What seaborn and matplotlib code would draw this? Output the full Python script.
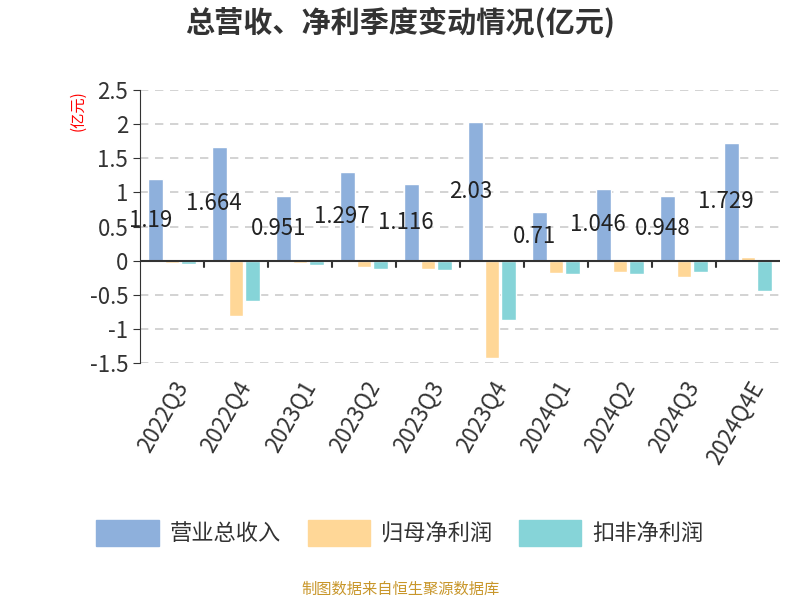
import matplotlib
matplotlib.use("Agg")
import matplotlib.pyplot as plt
import seaborn as sns
import pandas as pd
import numpy as np

sns.set_style("white")
plt.rcParams['font.family'] = ['Noto Sans CJK SC', 'DejaVu Sans']

quarters = ["2022Q3","2022Q4","2023Q1","2023Q2","2023Q3","2023Q4","2024Q1","2024Q2","2024Q3","2024Q4E"]
revenue = [1.19,1.664,0.951,1.297,1.116,2.03,0.71,1.046,0.948,1.729]
parent = [-0.04,-0.81,-0.03,-0.09,-0.12,-1.42,-0.18,-0.17,-0.24,0.06]
deduct = [-0.05,-0.59,-0.07,-0.12,-0.14,-0.87,-0.20,-0.20,-0.17,-0.44]
series = ["营业总收入","归母净利润","扣非净利润"]
colors = ["#8eb0dc","#ffd797","#86d4d8"]

df = pd.DataFrame({"q": quarters*3,
                   "v": revenue+parent+deduct,
                   "s": [series[0]]*10+[series[1]]*10+[series[2]]*10})

fig = plt.figure(figsize=(8,6), dpi=100)
ax = fig.add_axes([0.175, 0.395, 0.80, 0.455])
sns.barplot(data=df, x="q", y="v", hue="s", palette=colors, ax=ax, width=0.78,
            gap=0.12, saturation=1, legend=False)
ax.set_ylim(-1.5, 2.5)
ax.set_yticks(np.arange(-1.5, 2.51, 0.5))
ax.set_yticklabels(["-1.5","-1","-0.5","0","0.5","1","1.5","2","2.5"], fontsize=16, color="#333")
ax.yaxis.grid(True, linestyle=(0,(5,4)), color="#cccccc", lw=1.2)
ax.set_axisbelow(True)
for s in ["top","right","bottom"]:
    ax.spines[s].set_visible(False)
ax.spines["left"].set_color("#333")
ax.axhline(0, color="#333", lw=1.5)
ax.set_xlim(-0.5, 9.5)
ax.set_xticks(range(10))
ax.set_xticklabels(quarters, rotation=60, ha="right", rotation_mode="anchor", fontsize=16, color="#333")
ax.tick_params(axis="x", length=0, pad=10)
ax.tick_params(axis="y", length=5, color="#333", left=True)
for xb in np.arange(0.5, 9.5, 1):
    ax.plot([xb, xb], [0, -0.09], color="#333", lw=1.5, clip_on=False)
ax.set_xlabel(""); ax.set_ylabel("")
bars = ax.containers[0]
for b, v in zip(bars, revenue):
    ax.text(b.get_x()+b.get_width()/2 - 0.08, v/2, f"{v:g}", ha="center", va="center", fontsize=16, color="#222")
fig.text(0.097, 0.815, "(亿元)", rotation=90, color="red", fontsize=11, ha="center", va="center")
fig.text(0.5, 0.962, "总营收、净利季度变动情况(亿元)", ha="center", va="center", fontsize=21, fontweight="bold", color="#333")
from matplotlib.patches import FancyBboxPatch
handles = [FancyBboxPatch((0,0),1,1, boxstyle="round,pad=0.1", color=c) for c in colors]
fig.legend(handles, series, loc="center", bbox_to_anchor=(0.5, 0.112), ncol=3, frameon=False,
           fontsize=16, handlelength=2.8, handleheight=1.4, columnspacing=1.2, handletextpad=0.5,
           labelcolor="#333")
fig.text(0.5, 0.018, "制图数据来自恒生聚源数据库", ha="center", va="center", fontsize=11, color="#c8962a")
fig.savefig("out.png", dpi=100)
